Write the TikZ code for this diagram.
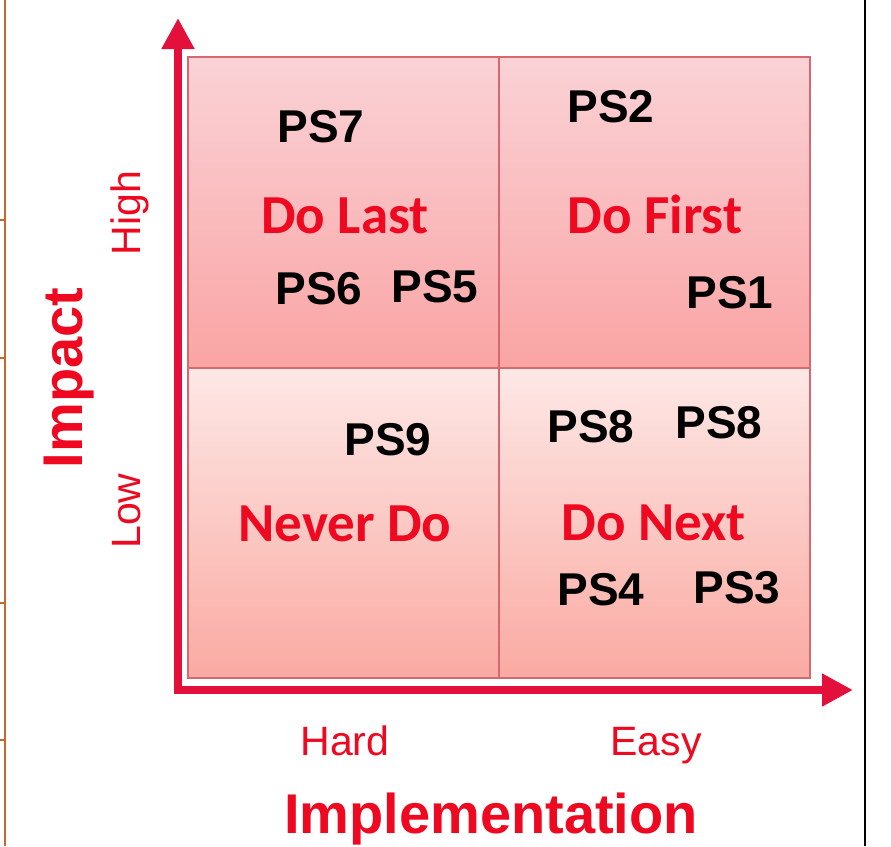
\documentclass[tikz,border=0pt]{standalone}
\usepackage{fontspec}
\setmainfont{Liberation Sans}
\newfontfamily\calfont{Carlito}
\usetikzlibrary{arrows.meta}

\definecolor{axisred}{RGB}{226,16,58}
\definecolor{labelred}{RGB}{238,8,32}
\definecolor{gridline}{RGB}{214,104,112}
\definecolor{hightop}{RGB}{250,210,214}
\definecolor{highbot}{RGB}{250,164,164}
\definecolor{lowtop}{RGB}{253,232,230}
\definecolor{lowbot}{RGB}{250,170,162}
\definecolor{pageline}{RGB}{200,104,44}

\tikzset{
  ps/.style={font=\fontsize{46}{46}\selectfont\bfseries, text=black, anchor=base, inner sep=0pt},
  action/.style={font=\calfont\fontsize{55}{55}\selectfont\bfseries, text=labelred, anchor=base, inner sep=0pt},
  level/.style={font=\fontsize{41}{41}\selectfont, text=labelred, anchor=base, inner sep=0pt},
  axistitle/.style={font=\fontsize{56}{56}\selectfont\bfseries, text=labelred, anchor=base, inner sep=0pt},
  axis/.style={draw=axisred, line width=8pt, -{Triangle[width=31pt,length=31pt]}},
  quad/.style={draw=gridline, line width=1.5pt}
}

\begin{document}
\begin{tikzpicture}[x=1pt, y=-1pt]
        \useasboundingbox (0,0) rectangle (891,846);

        % page edges
        \draw[pageline, line width=1.5pt] (5,0) -- (5,846);
        \foreach \t in {220,358,603,740}
                \draw[pageline, line width=1.2pt] (0,\t) -- (5,\t);
        \draw[black, line width=1.5pt] (865,0) -- (865,846);

        % quadrants
        \shade[top color=hightop, bottom color=highbot] (188,57) rectangle (499,368);
        \shade[top color=hightop, bottom color=highbot] (499,57) rectangle (810,368);
        \shade[top color=lowtop, bottom color=lowbot] (188,368) rectangle (499,678);
        \shade[top color=lowtop, bottom color=lowbot] (499,368) rectangle (810,678);
        \draw[quad] (188,57) rectangle (810,678);
        \draw[quad] (499,57) -- (499,678)
                (188,368) -- (810,368);

        % axes
        \coordinate (origin) at (178,690);
        \coordinate (ytip) at (178,18);
        \coordinate (xtip) at (853,690);
        \draw[axis] ([yshift=4pt]origin) -- (ytip);
        \draw[axis] ([xshift=-4pt]origin) -- (xtip);

        % quadrant labels
        \node[ps] (ps7) at (321,142) {PS7};
        \node[action] (dolast) at (345,233) {Do Last};
        \node[ps] (ps6) at (319,304) {PS6};
        \node[ps] (ps5) at (435,302) {PS5};

        \node[ps] (ps2) at (611,122) {PS2};
        \node[action] (dofirst) at (655,233) {Do First};
        \node[ps] (ps1) at (730,308) {PS1};

        \node[ps] (ps9) at (388,455) {PS9};
        \node[action] (neverdo) at (345,541) {Never Do};

        \node[ps] (ps8a) at (591,442) {PS8};
        \node[ps] (ps8b) at (719,438) {PS8};
        \node[action] (donext) at (654,540) {Do Next};
        \node[ps] (ps4) at (601,605) {PS4};
        \node[ps] (ps3) at (737,603) {PS3};

        % axis labels
        \node[level, rotate=90] (high) at (140,213) {High};
        \node[level, rotate=90] (low) at (140,511) {Low};
        \node[axistitle, rotate=90] (impact) at (82,378) {Impact};
        \node[level] (hard) at (345,755) {Hard};
        \node[level] (easy) at (656,755) {Easy};
        \node[axistitle] (implementation) at (491,833) {Implementation};
\end{tikzpicture}
\end{document}
